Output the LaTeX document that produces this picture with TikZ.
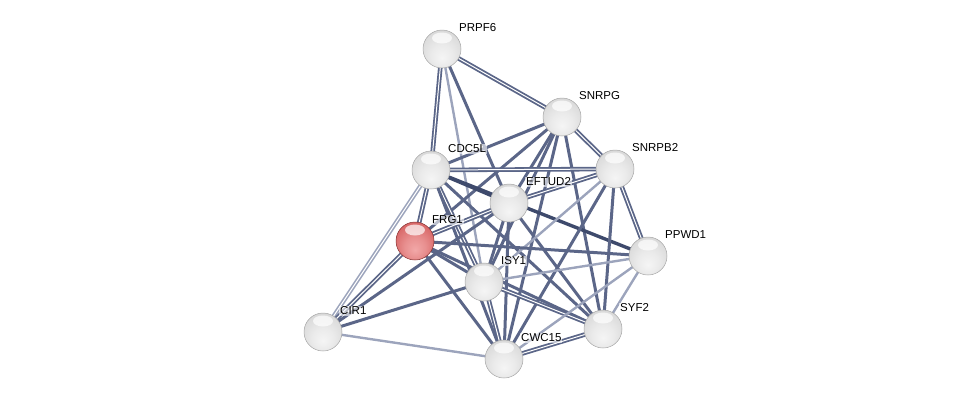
\documentclass[tikz,border=0pt]{standalone}
\usepackage{fontspec}
\setmainfont{Liberation Sans}
\usetikzlibrary{backgrounds}
\definecolor{edgedark}{HTML}{3E4A6C}
\definecolor{edgemid}{HTML}{5B6688}
\definecolor{edgefaint}{HTML}{9CA4BC}
\definecolor{redlight}{HTML}{F2A8A8}
\definecolor{redmid}{HTML}{D96A6A}
\definecolor{reddark}{HTML}{A83C3C}
\pgfdeclareradialshading{sphere}{\pgfpoint{0bp}{-12bp}}{color(0bp)=(gray!8); color(14bp)=(gray!16);
  color(28bp)=(gray!28); color(40bp)=(gray!45); color(52bp)=(gray!62)}
\pgfdeclareradialshading{redsphere}{\pgfpoint{0bp}{-12bp}}{color(0bp)=(redlight); color(14bp)=(redlight!60!redmid);
  color(28bp)=(redmid); color(40bp)=(redmid!70!reddark); color(52bp)=(reddark)}
\tikzset{
	protein/.style={circle, minimum size=38pt, inner sep=0pt, draw=gray!70, line width=0.5pt, shading=sphere,
		path picture={\fill[white, fill opacity=0.7] ([yshift=-8pt]path picture bounding box.north) ellipse (10pt and 5.5pt);}},
	query/.style={protein, draw=reddark!80!black, shading=redsphere},
	tag/.style={font=\fontsize{11.5}{13}\selectfont, anchor=west, inner sep=1pt,
		fill=white, fill opacity=0.6, text opacity=1}
}
\tikzset{
	s/.style={draw=edgedark, line width=3.4pt},
	m/.style={draw=edgemid, line width=3pt},
	f/.style={draw=edgefaint, line width=2.4pt},
	d/.style={draw=edgemid, line width=1.8pt, double=white, double distance=1pt},
	df/.style={draw=edgefaint, line width=1.6pt, double=white, double distance=1pt}
}
\begin{document}
\begin{tikzpicture}[x=1pt, y=-1pt]
      \useasboundingbox (0,0) rectangle (976,405);
      % proteins
      \foreach \n/\x/\y in {PRPF6/442/49, SNRPG/562/117, CDC5L/431/170, SNRPB2/615/169,
                            EFTUD2/509/203, PPWD1/648/256, ISY1/484/282, CIR1/323/332,
                            SYF2/603/329, CWC15/504/359}
        \node[protein] (\n) at (\x,\y) {};
      \node[query] (FRG1) at (415,241) {};
      \foreach \n in {PRPF6, SNRPG, CDC5L, SNRPB2, EFTUD2, FRG1, PPWD1, ISY1, CIR1, SYF2, CWC15}
        \node[tag] at ([shift={(16,-21)}]\n.center) {\n};
      % interactions
      \begin{scope}[on background layer]
        \foreach \a/\b/\w in {PRPF6/CDC5L/d, PRPF6/SNRPG/d, PRPF6/EFTUD2/m, PRPF6/ISY1/f,
                              SNRPG/CDC5L/m, SNRPG/FRG1/m, SNRPG/EFTUD2/m, SNRPG/ISY1/m,
                              SNRPG/CWC15/m, SNRPG/SYF2/m, SNRPG/SNRPB2/d,
                              CDC5L/SNRPB2/d, CDC5L/EFTUD2/s, CDC5L/PPWD1/s, CDC5L/ISY1/d,
                              CDC5L/CWC15/m, CDC5L/SYF2/m, CDC5L/FRG1/d, CDC5L/CIR1/df,
                              EFTUD2/SNRPB2/d, EFTUD2/FRG1/d, EFTUD2/ISY1/m, EFTUD2/CWC15/m,
                              EFTUD2/SYF2/m, EFTUD2/CIR1/m,
                              SNRPB2/ISY1/f, SNRPB2/CWC15/m, SNRPB2/SYF2/m, SNRPB2/PPWD1/d,
                              FRG1/ISY1/m, FRG1/CWC15/m, FRG1/SYF2/m, FRG1/PPWD1/m, FRG1/CIR1/d,
                              ISY1/CWC15/d, ISY1/SYF2/d, ISY1/PPWD1/f, ISY1/CIR1/m,
                              CWC15/SYF2/d, CWC15/PPWD1/f, CWC15/CIR1/f, SYF2/PPWD1/f}
          \draw[\w] (\a.center) -- (\b.center);
      \end{scope}
\end{tikzpicture}
\end{document}
